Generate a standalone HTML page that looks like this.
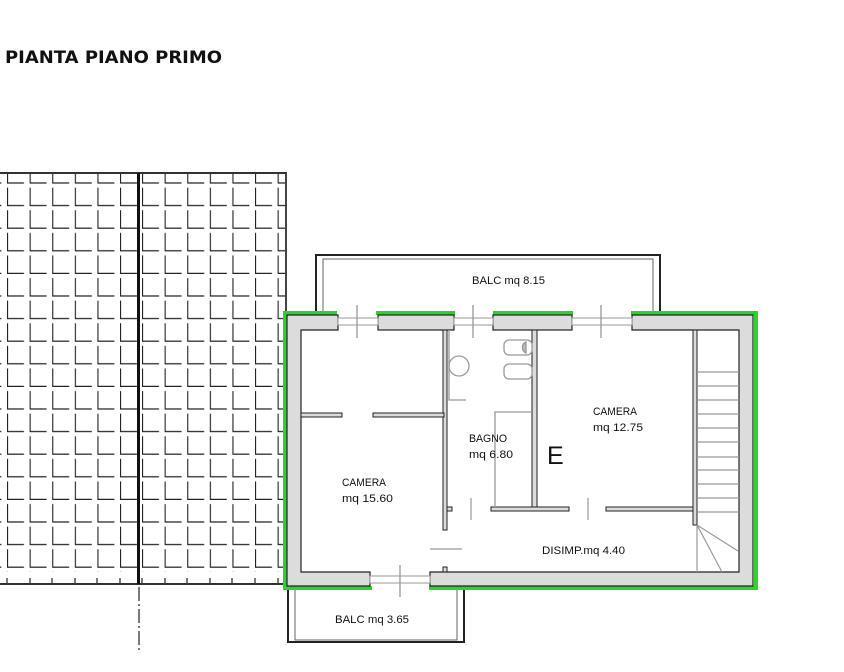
<!DOCTYPE html>
<html><head><meta charset="utf-8"><style>
html,body{margin:0;padding:0;background:#fff;}
svg{display:block;}
text{font-family:"Liberation Sans",sans-serif;fill:#111;}
</style></head><body>
<svg width="844" height="672" viewBox="0 0 844 672" xmlns="http://www.w3.org/2000/svg">
<defs>
<pattern id="tl" patternUnits="userSpaceOnUse" x="7" y="161" width="22.6" height="22.6">
<path d="M0.5,4 V22 H17" fill="none" stroke="#222" stroke-width="1.2"/>
</pattern>
<pattern id="tr" patternUnits="userSpaceOnUse" x="142" y="161" width="22.6" height="22.6">
<path d="M0.5,4 V22 H17" fill="none" stroke="#222" stroke-width="1.2"/>
</pattern>
</defs>
<text x="5" y="63" font-size="17" font-weight="bold" textLength="217" lengthAdjust="spacingAndGlyphs" style="font-family:'DejaVu Sans','Liberation Sans',sans-serif">PIANTA PIANO PRIMO</text>

<!-- roof tiles -->
<rect x="0" y="174" width="138" height="398" fill="url(#tl)"/>
<rect x="141" y="174" width="144" height="398" fill="url(#tr)"/>
<g stroke="#222" stroke-width="1.2">
<path d="M7,578V583 M30,578V583 M52,578V583 M75,578V583 M97,578V583 M120,578V583 M142,578V583 M165,578V583 M187,578V583 M210,578V583 M232,578V583 M255,578V583 M278,578V583"/>
</g>
<path d="M0,173H287 M0,584H287" stroke="#333" stroke-width="2"/>
<path d="M138.5,173V584" stroke="#111" stroke-width="3"/>
<path d="M286,173V312" stroke="#444" stroke-width="2"/>
<path d="M139,587V652" stroke="#222" stroke-width="1.2" stroke-dasharray="14,3,2,3"/>

<!-- top balcony -->
<path d="M316,312V255H660V312" fill="none" stroke="#222" stroke-width="2"/>
<path d="M323,312V259H653V312" fill="none" stroke="#666" stroke-width="1"/>
<!-- bottom balcony -->
<path d="M288,590V642H464V590" fill="none" stroke="#222" stroke-width="2"/>
<path d="M295,590V640H457V590" fill="none" stroke="#666" stroke-width="1"/>

<!-- green outline -->
<g stroke="#2fd12f" stroke-width="4" fill="none">
<path d="M337,313H285V588H372"/>
<path d="M429,588H756V313H631"/>
<path d="M376,313H455"/>
<path d="M493,313H573"/>
</g>

<!-- outer walls -->
<g fill="#dcdcdc" stroke="#222" stroke-width="1.2">
<path d="M287,315H338V330H301V572H370V586H287Z"/>
<rect x="378" y="315" width="76" height="15"/>
<rect x="493" y="315" width="79" height="15"/>
<path d="M632,315H753V586H430V572H739V330H632Z"/>
</g>
<!-- windows -->
<g stroke="#999" stroke-width="1" fill="#fff">
<rect x="338" y="318" width="40" height="7"/>
<rect x="454" y="318" width="39" height="7"/>
<rect x="572" y="318" width="60" height="7"/>
<rect x="370" y="576" width="60" height="7"/>
</g>
<g stroke="#999" stroke-width="1.3">
<path d="M357,305V338 M473,305V338 M601,305V338 M400,565V597"/>
</g>

<!-- interior walls -->
<g fill="#dcdcdc" stroke="#222" stroke-width="1">
<rect x="443" y="330" width="4" height="200"/>
<rect x="301" y="413" width="41" height="4"/>
<rect x="373" y="413" width="71" height="4"/>
<rect x="532" y="330" width="5" height="180"/>
<rect x="491" y="507" width="78" height="4"/>
<rect x="606" y="507" width="88" height="4"/>
<rect x="693" y="330" width="4" height="195"/>
<rect x="447" y="507" width="5" height="4"/>
<rect x="443" y="567" width="4" height="5"/>
</g>
<g stroke="#999" stroke-width="1.2">
<path d="M471,498V520 M588,498V520 M430,549H462"/>
</g>

<!-- bathroom -->
<g stroke="#999" stroke-width="1.3" fill="none">
<path d="M449,330V400H466"/>
<circle cx="459" cy="366" r="10"/>
<rect x="504" y="340" width="28" height="15" rx="5"/>
<path d="M526,342A6,6 0 0 0 526,353Z" fill="#bbb"/>
<rect x="504" y="364" width="28" height="15" rx="5"/>
<path d="M495,507V412H532"/>
</g>

<!-- stair -->
<g stroke="#999" stroke-width="1.2">
<path d="M697,372H739 M697,386H739 M697,400H739 M697,414H739 M697,428H739 M697,442H739 M697,457H739 M697,470H739 M697,484H739 M697,498H739 M697,512H739"/>
<path d="M697,525L738,551 M697,525L722,572 M697,525V572"/>
</g>

<!-- labels -->
<g font-size="11">
<text x="472" y="284" textLength="73" lengthAdjust="spacingAndGlyphs">BALC mq 8.15</text>
<text x="593" y="415" textLength="44" lengthAdjust="spacingAndGlyphs">CAMERA</text>
<text x="593" y="431" textLength="50" lengthAdjust="spacingAndGlyphs">mq 12.75</text>
<text x="469" y="442" textLength="38" lengthAdjust="spacingAndGlyphs">BAGNO</text>
<text x="469" y="458" textLength="44" lengthAdjust="spacingAndGlyphs">mq 6.80</text>
<text x="342" y="486" textLength="44" lengthAdjust="spacingAndGlyphs">CAMERA</text>
<text x="342" y="502" textLength="51" lengthAdjust="spacingAndGlyphs">mq 15.60</text>
<text x="542" y="554" textLength="83" lengthAdjust="spacingAndGlyphs">DISIMP.mq 4.40</text>
<text x="335" y="623" textLength="74" lengthAdjust="spacingAndGlyphs">BALC mq 3.65</text>
</g>
<text x="547" y="464" font-size="25">E</text>
</svg>
</body></html>
